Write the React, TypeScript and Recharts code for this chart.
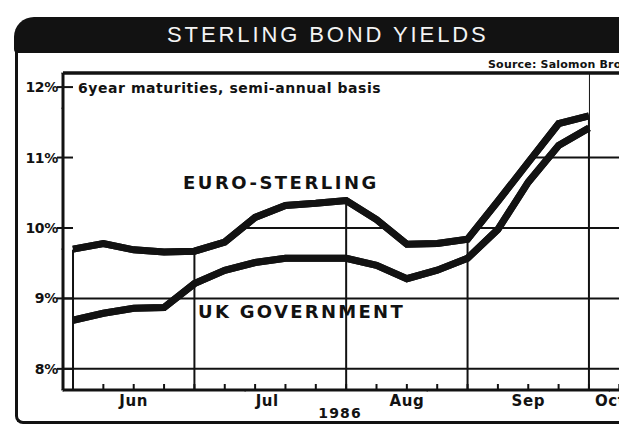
import React from 'react';
import {
  ComposedChart,
  Line,
  Area,
  XAxis,
  YAxis,
  CartesianGrid,
  ReferenceLine
} from 'recharts';

// weekly readings, week 0 = start of June 1986
const weeks = [0, 1, 2, 3, 4, 5, 6, 7, 8, 9, 10, 11, 12, 13, 14, 15, 16, 17];
const euroSterling = [9.70, 9.78, 9.69, 9.66, 9.67, 9.80, 10.15, 10.32, 10.35, 10.39, 10.12, 9.77, 9.78, 9.84, 10.38, 10.93, 11.48, 11.59];
const ukGovernment = [8.69, 8.79, 8.86, 8.87, 9.21, 9.40, 9.51, 9.57, 9.57, 9.57, 9.47, 9.28, 9.40, 9.57, 9.98, 10.65, 11.17, 11.42];

const yTicks = [8, 9, 10, 11, 12];
const gridValues = [8, 9, 10, 11];
const monthBounds = [0, 4, 9, 13, 17];
const monthLabels: Record<string, string> = {
  '2': 'Jun',
  '6.4': 'Jul',
  '11': 'Aug',
  '15': 'Sep',
  '17.7': 'Oct',
  '8.8': '1986'
};
const xTicks = [0, 1, 2, 3, 4, 5, 6, 6.4, 7, 8, 8.8, 9, 10, 11, 12, 13, 14, 15, 16, 17, 17.7, 18, 19, 20];

const X_MIN = -0.33;
const X_MAX = 20;
const Y_MIN = 7.7;
const Y_MAX = 12.2;

// first row only carries the white mask so it reaches the left axis
const data = [
  { week: X_MIN, euro: null, uk: null, mask: [euroSterling[0], Y_MAX] },
  ...weeks.map((w, i) => ({
    week: w,
    euro: euroSterling[i],
    uk: ukGovernment[i],
    mask: [euroSterling[i], Y_MAX]
  }))
];

const INK = '#121212';
const FONT = '"DejaVu Sans", "Liberation Sans", sans-serif';

const XTick = (props: any) => {
  const { x, y, payload } = props;
  const v = payload.value;
  const label = monthLabels[String(v)];
  const isWeek = Number.isInteger(v);
  const isYear = label === '1986';
  return (
    <g>
      {isWeek && <line x1={x} x2={x} y1={y - 6} y2={y} stroke={INK} strokeWidth={2} />}
      {label && (
        <text
          x={x}
          y={isYear ? y + 28 : y + 16}
          textAnchor="middle"
          fontFamily={FONT}
          fontWeight="bold"
          fontSize={isYear ? 14 : 15}
          letterSpacing={isYear ? 1.2 : 0.6}
          fill={INK}
        >
          {label}
        </text>
      )}
    </g>
  );
};

const YTick = (props: any) => {
  const { x, y, payload } = props;
  return (
    <g>
      <line x1={x - 6} x2={x + 10} y1={y} y2={y} stroke={INK} strokeWidth={2} />
      <text
        x={x - 5}
        y={y + 5}
        textAnchor="end"
        fontFamily={FONT}
        fontWeight="bold"
        fontSize={14}
        letterSpacing={-0.3}
        fill={INK}
      >
        {payload.value}%
      </text>
    </g>
  );
};

const heavy: React.CSSProperties = {
  position: 'absolute',
  fontFamily: FONT,
  fontWeight: 'bold',
  color: INK,
  whiteSpace: 'nowrap'
};

const layer: React.CSSProperties = { position: 'absolute', left: 0, top: 0 };
const paper: React.CSSProperties = { position: 'absolute', background: '#fff' };

export default function App() {
  return (
    <div
      style={{
        position: 'absolute',
        left: 0,
        top: 0,
        width: 619,
        height: 427,
        overflow: 'hidden',
        background: '#fff'
      }}
    >
      {/* lower layer: grid with white paper laid over it above the upper curve */}
      <div style={layer}>
        <ComposedChart
          width={680}
          height={427}
          data={data}
          margin={{ top: 73, right: 0, bottom: 7, left: 0 }}
        >
          <CartesianGrid
            stroke={INK}
            strokeWidth={2}
            horizontalValues={gridValues}
            verticalValues={monthBounds}
          />
          <XAxis dataKey="week" type="number" domain={[X_MIN, X_MAX]} height={30} allowDataOverflow />
          <YAxis type="number" domain={[Y_MIN, Y_MAX]} width={63} allowDataOverflow />
          <Area dataKey="mask" type="linear" stroke="none" fill="#fff" fillOpacity={1} isAnimationActive={false} />
          <Area dataKey="mask" type="linear" stroke="#fff" strokeWidth={1} fill="none" isAnimationActive={false} />
          <ReferenceLine y={Y_MAX} stroke={INK} strokeWidth={3} />
          <Line dataKey="euro" stroke={INK} strokeWidth={7} dot={false} isAnimationActive={false} />
          <Line dataKey="uk" stroke={INK} strokeWidth={7} dot={false} isAnimationActive={false} />
        </ComposedChart>
      </div>

      {/* blank out the plain axes of the lower layer */}
      <div style={{ ...paper, left: 0, top: 53, width: 61, height: 374 }} />
      <div style={{ ...paper, left: 0, top: 392, width: 619, height: 35 }} />

      {/* frame */}
      <div
        style={{
          position: 'absolute',
          left: 15,
          top: 40,
          width: 700,
          height: 381,
          borderLeft: '3px solid ' + INK,
          borderBottom: '3px solid ' + INK,
          borderBottomLeftRadius: 8
        }}
      />
      {/* title bar */}
      <div
        style={{
          position: 'absolute',
          left: 14,
          top: 17,
          width: 700,
          height: 36,
          background: INK,
          borderTopLeftRadius: 20,
          borderBottomLeftRadius: 4
        }}
      />
      <div
        style={{
          position: 'absolute',
          left: 167,
          top: 22,
          fontFamily: '"Liberation Sans", Arial, sans-serif',
          fontSize: 22,
          letterSpacing: 2.9,
          color: '#f4f4f4',
          whiteSpace: 'nowrap'
        }}
      >
        STERLING BOND YIELDS
      </div>

      {/* upper layer: styled axes and the two series */}
      <div style={layer}>
        <ComposedChart
          width={680}
          height={427}
          data={data}
          margin={{ top: 73, right: 0, bottom: 7, left: 0 }}
        >
          <XAxis
            dataKey="week"
            type="number"
            domain={[X_MIN, X_MAX]}
            ticks={xTicks}
            interval={0}
            tick={<XTick />}
            tickLine={false}
            tickSize={0}
            tickMargin={0}
            axisLine={{ stroke: INK, strokeWidth: 3 }}
            height={30}
            allowDataOverflow
          />
          <YAxis
            type="number"
            domain={[Y_MIN, Y_MAX]}
            ticks={yTicks}
            interval={0}
            tick={<YTick />}
            tickLine={false}
            tickSize={0}
            tickMargin={0}
            axisLine={{ stroke: INK, strokeWidth: 3 }}
            width={63}
            allowDataOverflow
          />
          <ReferenceLine y={Y_MAX} stroke={INK} strokeWidth={3} />
          <Line dataKey="euro" stroke={INK} strokeWidth={7} dot={false} isAnimationActive={false} />
          <Line dataKey="uk" stroke={INK} strokeWidth={7} dot={false} isAnimationActive={false} />
        </ComposedChart>
      </div>

      <div style={{ ...heavy, left: 488, top: 58, fontSize: 11, letterSpacing: 0.2 }}>
        Source: Salomon Brothers
      </div>
      <div style={{ ...heavy, left: 78, top: 80, fontSize: 14, letterSpacing: 0.55 }}>
        6year maturities, semi-annual basis
      </div>
      <div style={{ ...heavy, left: 183, top: 172, fontSize: 18, letterSpacing: 2.5 }}>
        EURO-STERLING
      </div>
      <div style={{ ...heavy, left: 198, top: 301, fontSize: 18, letterSpacing: 2.3 }}>
        UK GOVERNMENT
      </div>
    </div>
  );
}
